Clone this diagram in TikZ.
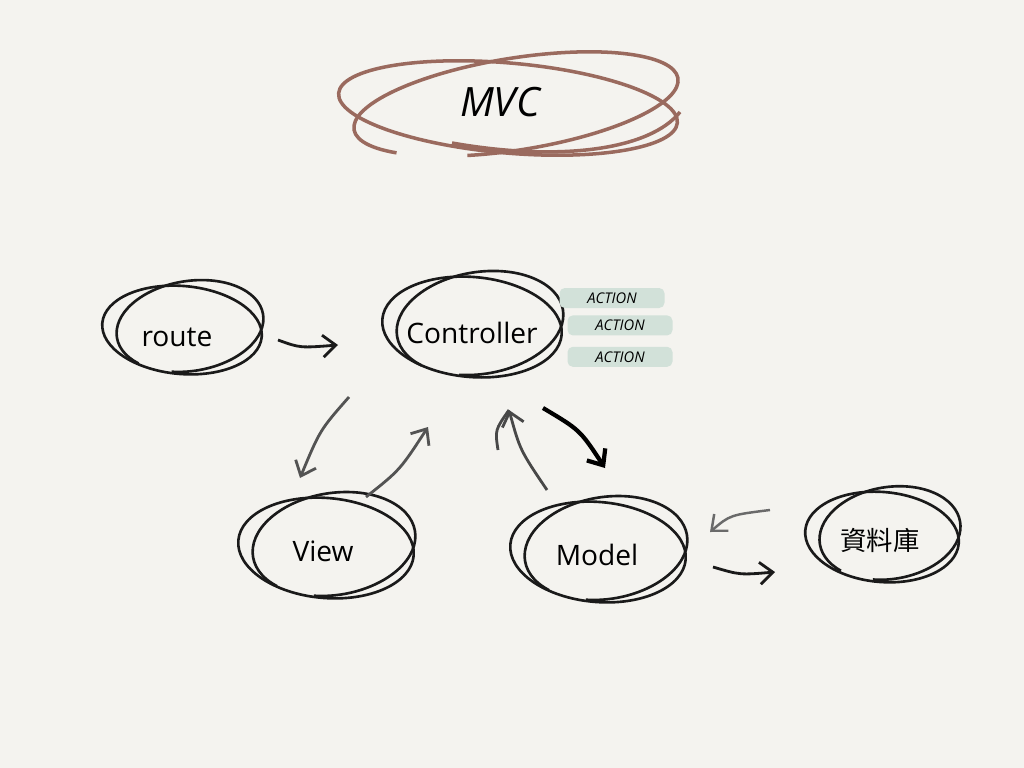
\documentclass[tikz,border=0pt]{standalone}
\usepackage{fontspec}
\setmainfont{Open Sans}
\newfontfamily\cjkfont{Noto Sans CJK TC}
\usetikzlibrary{positioning,arrows.meta}
\definecolor{paper}{HTML}{F4F3EF}
\definecolor{brick}{HTML}{9A6A5E}
\definecolor{brush}{HTML}{D2E1D9}
\definecolor{pencil}{HTML}{1A1A1A}
\tikzstyle{label} = [font=\fontsize{8}{10}\selectfont, text=black]
\tikzstyle{tag} = [font=\fontsize{4.2}{5}\selectfont\itshape, text=black, fill=brush, rounded corners=1.5pt, minimum width=1.05cm, minimum height=0.2cm, inner sep=1pt]
\tikzstyle{loop} = [draw=pencil, line width=0.75pt]
\tikzstyle{arrow} = [line width=0.8pt, -{Straight Barb[length=1.3mm, width=2.2mm]}]
% a loose ring plus an overshooting stroke, like a quick pen loop
\newcommand{\penring}[4]{%
  \draw[#4, shift={(#1)}, rotate=-5] (0,0) ellipse [x radius=#2, y radius=#3];
  \draw[#4, shift={(#1)}, shift={(0.08,-0.04)}, rotate=9]
    (140:{#2-0.06} and {#3+0.01}) arc [start angle=140, end angle=470, x radius={#2-0.06}, y radius={#3+0.01}];
}
\begin{document}
\begin{tikzpicture}[x=1cm,y=-1cm]
			\fill[paper] (0, 0) rectangle (10.24, 7.68);
			\useasboundingbox (0, 0) rectangle (10.24, 7.68);
			% title
			\node[font=\fontsize{11.5}{13}\selectfont\itshape] (mvc) at (5.0, 1.02) {MVC};
			\penring{5.08, 1.08}{1.70}{0.45}{draw=brick, line width=1pt}
			\draw[brick, line width=1pt] (4.52, 1.43) .. controls (5.6, 1.62) and (6.5, 1.5) .. (6.8, 1.12);
			% nodes
			\node[label] (route) at (1.77, 3.37) {route};
			\node[label] (ctrl) at (4.72, 3.33) {Controller};
			\node[label] (view) at (3.23, 5.51) {View};
			\node[label] (model) at (5.97, 5.55) {Model};
			\node[font=\fontsize{7.5}{9}\selectfont\cjkfont] (db) at (8.80, 5.40) {資料庫};
			\penring{1.82, 3.30}{0.80}{0.44}{loop}
			\penring{4.72, 3.27}{0.90}{0.50}{loop}
			\penring{3.26, 5.48}{0.88}{0.50}{loop}
			\penring{5.98, 5.52}{0.88}{0.50}{loop}
			\penring{8.82, 5.37}{0.77}{0.45}{loop}
			% actions
			\node[tag] (act1) at (6.12, 2.98) {ACTION};
			\node[tag, below=0.06cm of act1, xshift=0.08cm] (act2) {ACTION};
			\node[tag, below=0.1cm of act2] (act3) {ACTION};
			% connectors
			\coordinate (r1) at (2.78, 3.40);
			\coordinate (r2) at (3.38, 3.45);
			\draw[arrow, pencil] (r1) .. controls (3.0, 3.48) .. (r2);
			\coordinate (cv1) at (3.49, 3.97);
			\coordinate (cv2) at (3.00, 4.78);
			\draw[arrow, pencil!75] (cv1) .. controls (3.2, 4.3) .. (cv2);
			\coordinate (vc1) at (3.66, 4.97);
			\coordinate (vc2) at (4.28, 4.27);
			\draw[arrow, pencil!75] (vc1) .. controls (4.0, 4.7) .. (vc2);
			\coordinate (mc1) at (5.47, 4.90);
			\coordinate (mc2) at (5.09, 4.10);
			\draw[arrow, pencil!80] (mc1) .. controls (5.2, 4.5) .. (mc2);
			\draw[pencil!80, line width=0.8pt] (4.98, 4.50) .. controls (4.95, 4.3) .. (mc2);
			\coordinate (cm1) at (5.43, 4.08);
			\coordinate (cm2) at (6.05, 4.68);
			\draw[arrow, black, line width=1.2pt] (cm1) .. controls (5.8, 4.3) .. (cm2);
			\coordinate (dm1) at (7.70, 5.10);
			\coordinate (dm2) at (7.10, 5.32);
			\draw[arrow, pencil!65, line width=0.7pt] (dm1) .. controls (7.3, 5.15) .. (dm2);
			\coordinate (md1) at (7.13, 5.67);
			\coordinate (md2) at (7.75, 5.72);
			\draw[arrow, pencil] (md1) .. controls (7.4, 5.75) .. (md2);
		\end{tikzpicture}
\end{document}
